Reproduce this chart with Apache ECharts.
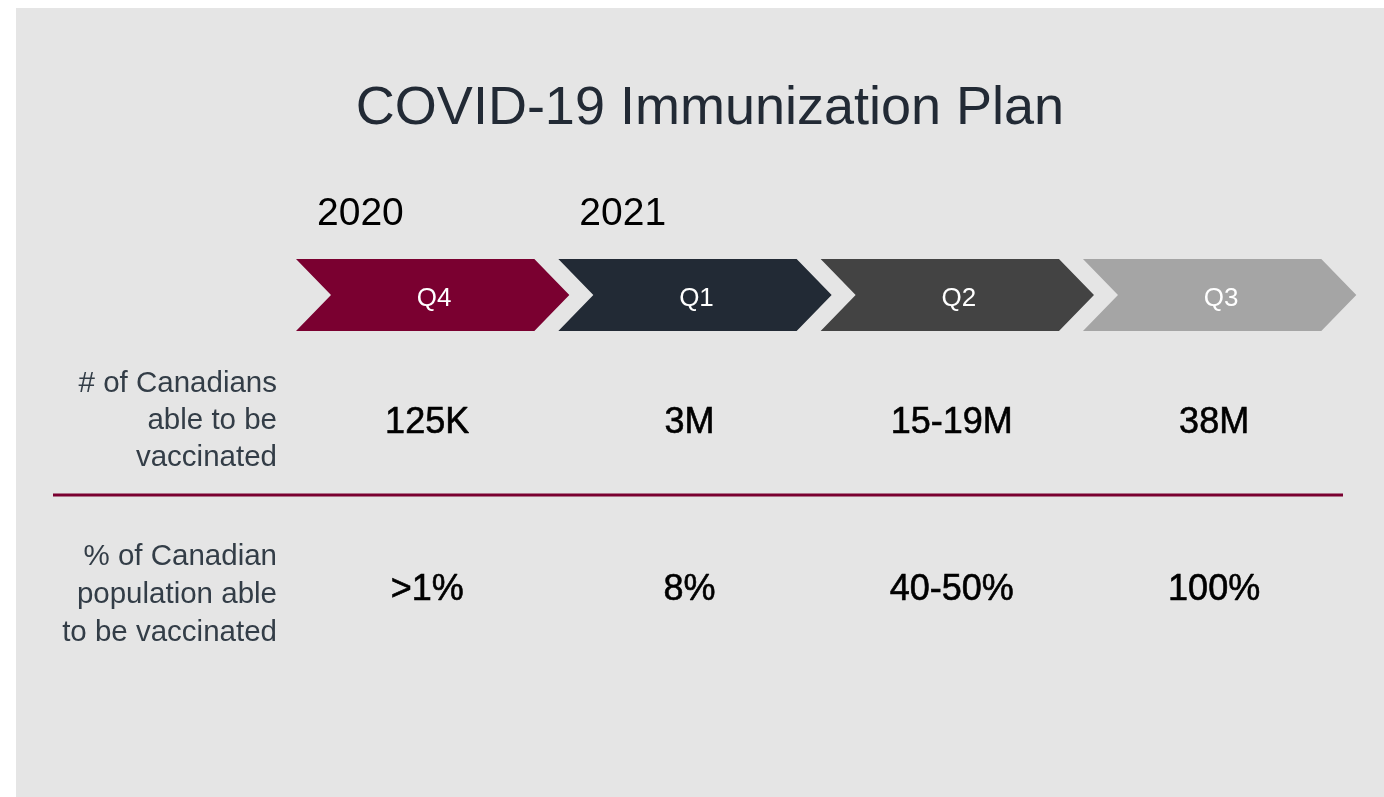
<!DOCTYPE html>
<html>
<head>
<meta charset="utf-8">
<title>COVID-19 Immunization Plan</title>
<script src="https://cdn.jsdelivr.net/npm/echarts@6/dist/echarts.min.js"></script>
<style>
  html, body { margin: 0; padding: 0; background: #ffffff; }
  #main { width: 1384px; height: 797px; }
</style>
</head>
<body>
<div id="main"></div>
<script>
// data
const quarters = ["Q4", "Q1", "Q2", "Q3"];
const years = ["2020", "2021", "", ""];
const canadians = ["125K", "3M", "15-19M", "38M"];
const shares = [">1%", "8%", "40-50%", "100%"];
const rowLabels = [
  "# of Canadians\nable to be\nvaccinated",
  "% of Canadian\npopulation able\nto be vaccinated",
];

const font = "'Liberation Sans', Arial, sans-serif";
const chevronColors = ["#7a0030", "#222a35", "#434343", "#a5a5a5"];

// layout (px)
const chevTop = 259;
const chevBottom = 331;
const chevDepth = 35;
const chevOverlap = 11;
const yearY = 214;
const row1Y = 423;
const row2Y = 590;

const chart = echarts.init(document.getElementById("main"));

chart.setOption({
  backgroundColor: "#ffffff",
  animation: false,
  title: {
    text: "COVID-19 Immunization Plan",
    left: 705,
    top: 104,
    textAlign: "center",
    textVerticalAlign: "middle",
    textStyle: { fontFamily: font, fontSize: 54, fontWeight: "normal", color: "#222a35" },
  },
  graphic: [
    {
      type: "rect",
      z: -10,
      shape: { x: 16, y: 8, width: 1384 - 16, height: 797 - 8 },
      style: { fill: "#e5e5e5" },
    },
    {
      type: "line",
      shape: { x1: 53, y1: 495, x2: 1343, y2: 495 },
      style: { stroke: "#7a0030", lineWidth: 3 },
    },
    {
      type: "text",
      x: 277,
      y: 421,
      style: {
        text: rowLabels[0],
        font: "29.5px " + font,
        fill: "#333d47",
        align: "right",
        verticalAlign: "middle",
        lineHeight: 37,
      },
    },
    {
      type: "text",
      x: 277,
      y: 595,
      style: {
        text: rowLabels[1],
        font: "29.5px " + font,
        fill: "#333d47",
        align: "right",
        verticalAlign: "middle",
        lineHeight: 38,
      },
    },
  ],
  grid: { left: 296, right: 38.7, top: 0, bottom: 0 },
  xAxis: {
    type: "category",
    data: quarters,
    show: false,
    boundaryGap: true,
  },
  yAxis: { type: "value", show: false, min: 0, max: 1 },
  series: [
    {
      type: "custom",
      data: quarters.map((q, i) => [i]),
      renderItem: (params, api) => {
        const i = api.value(0);
        const cx = api.coord([i, 0])[0];
        const bw = api.size([1, 0])[0];
        const x0 = cx - bw / 2;
        const w = bw + chevOverlap;
        const mid = (chevTop + chevBottom) / 2;
        const children = [
          {
            type: "polygon",
            shape: {
              points: [
                [x0, chevTop],
                [x0 + w - chevDepth, chevTop],
                [x0 + w, mid],
                [x0 + w - chevDepth, chevBottom],
                [x0, chevBottom],
                [x0 + chevDepth, mid],
              ],
            },
            style: { fill: chevronColors[i] },
          },
          {
            type: "text",
            x: cx + 7,
            y: mid + 4,
            style: {
              text: quarters[i],
              font: "26px " + font,
              fill: "#ffffff",
              align: "center",
              verticalAlign: "middle",
            },
          },
        ];
        if (years[i]) {
          children.push({
            type: "text",
            x: x0 + 21,
            y: yearY,
            style: {
              text: years[i],
              font: "39px " + font,
              fill: "#000000",
              align: "left",
              verticalAlign: "middle",
            },
          });
        }
        return { type: "group", children: children };
      },
    },
    {
      type: "custom",
      data: quarters.map((q, i) => [i]),
      renderItem: (params, api) => {
        const i = api.value(0);
        const cx = api.coord([i, 0])[0];
        const valueStyle = (t) => ({
          text: t,
          font: "36px " + font,
          fill: "#000000",
          stroke: "#000000",
          lineWidth: 0.6,
          align: "center",
          verticalAlign: "middle",
        });
        return {
          type: "group",
          children: [
            { type: "text", x: cx, y: row1Y, style: valueStyle(canadians[i]) },
            { type: "text", x: cx, y: row2Y, style: valueStyle(shares[i]) },
          ],
        };
      },
    },
  ],
});
</script>
</body>
</html>
